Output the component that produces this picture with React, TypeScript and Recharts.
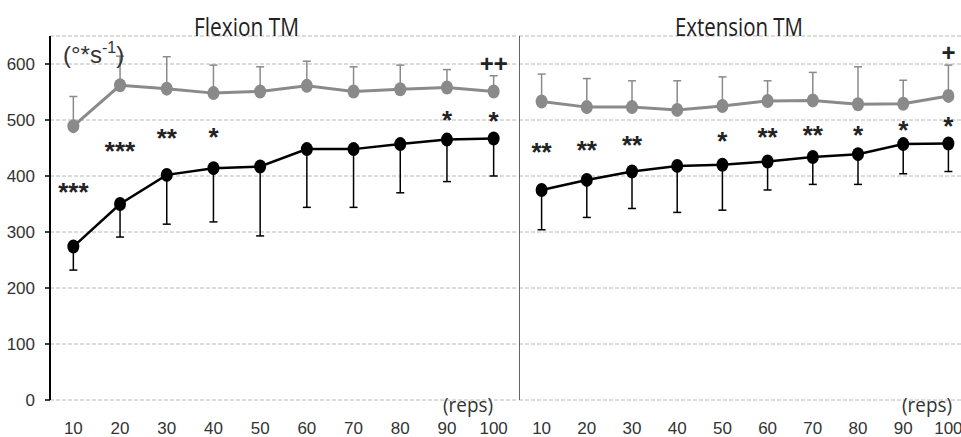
import React from 'react';
import {
  LineChart,
  Line,
  XAxis,
  YAxis,
  CartesianGrid,
  ErrorBar,
  LabelList,
  ReferenceLine,
} from 'recharts';

const reps = [10, 20, 30, 40, 50, 60, 70, 80, 90, 100];
const yTicks = [0, 100, 200, 300, 400, 500, 600];

// Flexion TM
const flexGray = [489, 562, 556, 548, 551, 561, 551, 555, 558, 551];
const flexGrayTop = [542, 614, 613, 598, 595, 605, 595, 598, 590, 579];
const flexBlack = [274, 350, 402, 414, 417, 448, 448, 457, 465, 467];
const flexBlackLow = [232, 291, 314, 318, 293, 344, 344, 370, 390, 400];
const flexStars = ['***', '***', '**', '*', '', '', '', '', '*', '*'];
const flexPlus = ['', '', '', '', '', '', '', '', '', '++'];

// Extension TM
const extGray = [533, 523, 523, 518, 525, 534, 535, 528, 529, 543];
const extGrayTop = [582, 574, 570, 570, 577, 570, 585, 595, 571, 598];
const extBlack = [375, 393, 408, 418, 420, 426, 434, 439, 457, 458];
const extBlackLow = [304, 326, 342, 335, 339, 375, 385, 385, 404, 408];
const extStars = ['**', '**', '**', '', '*', '**', '**', '*', '*', '*'];
const extPlus = ['', '', '', '', '', '', '', '', '', '+'];

const GRAY = '#8a8a8a';
const numFont = "'Liberation Sans Narrow', 'Liberation Sans', Arial, sans-serif";
const textFont = "'Open Sans', 'Noto Sans', sans-serif";

function buildRows(
  gray: number[],
  grayTop: number[],
  black: number[],
  blackLow: number[],
  stars: string[],
  plus: string[],
) {
  return reps.map((rep, i) => ({
    rep,
    gray: gray[i],
    grayErr: [0, grayTop[i] - gray[i]],
    black: black[i],
    blackErr: [black[i] - blackLow[i], 0],
    mid: (gray[i] + black[i]) / 2,
    star: stars[i],
    grayTop: grayTop[i],
    plus: plus[i],
  }));
}

const flexRows = buildRows(flexGray, flexGrayTop, flexBlack, flexBlackLow, flexStars, flexPlus);
const extRows = buildRows(extGray, extGrayTop, extBlack, extBlackLow, extStars, extPlus);

const oval = (color: string) => (props: any) => (
  <ellipse key={`d${props.index}`} cx={props.cx} cy={props.cy} rx={6} ry={7} fill={color} />
);

const starLabel = (props: any) => {
  const { x, y, value, index } = props;
  if (!value) return null;
  return (
    <text
      key={`s${index}`}
      x={x}
      y={y + 15}
      textAnchor="middle"
      fontFamily="'Liberation Sans', Arial, sans-serif"
      fontWeight="bold"
      fontSize={26}
      fill="#222"
    >
      {value}
    </text>
  );
};

const plusLabel = (props: any) => {
  const { x, y, value, index } = props;
  if (!value) return null;
  return (
    <text
      key={`p${index}`}
      x={x}
      y={y - 4}
      textAnchor="middle"
      fontFamily="'Liberation Sans', Arial, sans-serif"
      fontWeight="bold"
      fontSize={24}
      fill="#222"
    >
      {value}
    </text>
  );
};

interface PanelProps {
  rows: ReturnType<typeof buildRows>;
  left: number;
  width: number;
  withAxis: boolean;
}

function Panel({ rows, left, width, withAxis }: PanelProps) {
  return (
    <div style={{ position: 'absolute', left, top: 0 }}>
      <LineChart
        width={width}
        height={437}
        data={rows}
        margin={{ top: 36, right: withAxis ? 1 : 0, bottom: 7, left: 0 }}
      >
        <CartesianGrid vertical={false} stroke="#b8b8b8" strokeDasharray="4 2" />
        <XAxis
          dataKey="rep"
          type="number"
          domain={[5, 105]}
          ticks={reps}
          interval={0}
          axisLine={false}
          tickLine={false}
          tickMargin={16}
          height={30}
          tick={{ fontFamily: numFont, fontSize: 17, fill: '#333' }}
        />
        <YAxis
          type="number"
          domain={[0, 650]}
          ticks={yTicks}
          interval={0}
          hide={!withAxis}
          width={50}
          axisLine={{ stroke: '#000', strokeWidth: 2 }}
          tickLine={{ stroke: '#000', strokeWidth: 1.5 }}
          tickSize={5}
          tickMargin={10}
          tick={{ fontFamily: numFont, fontSize: 17, fill: '#333' }}
        />
        {!withAxis && <ReferenceLine x={5} stroke="#333" strokeWidth={1.5} />}
        <Line
          dataKey="gray"
          stroke={GRAY}
          strokeWidth={3}
          dot={oval(GRAY)}
          activeDot={false}
          isAnimationActive={false}
        >
          <ErrorBar dataKey="grayErr" direction="y" width={4} stroke={GRAY} strokeWidth={1.5} />
        </Line>
        <Line
          dataKey="black"
          stroke="#000"
          strokeWidth={2.5}
          dot={oval('#000')}
          activeDot={false}
          isAnimationActive={false}
        >
          <ErrorBar dataKey="blackErr" direction="y" width={4} stroke="#000" strokeWidth={1.5} />
        </Line>
        <Line dataKey="mid" stroke="none" dot={false} activeDot={false} isAnimationActive={false}>
          <LabelList dataKey="star" content={starLabel} />
        </Line>
        <Line dataKey="grayTop" stroke="none" dot={false} activeDot={false} isAnimationActive={false}>
          <LabelList dataKey="plus" content={plusLabel} />
        </Line>
      </LineChart>
    </div>
  );
}

export default function App() {
  return (
    <div
      style={{
        position: 'absolute',
        left: 0,
        top: 0,
        width: 961,
        height: 437,
        overflow: 'hidden',
        background: '#fff',
      }}
    >
      <Panel rows={flexRows} left={0} width={518} withAxis />
      <Panel rows={extRows} left={519} width={452} withAxis={false} />
      <svg
        width={961}
        height={437}
        style={{ position: 'absolute', left: 0, top: 0, pointerEvents: 'none' }}
      >
        <text x={194} y={36} fontFamily={textFont} fontSize={25} fill="#222" textLength={105} lengthAdjust="spacingAndGlyphs">
          Flexion TM
        </text>
        <text x={675} y={36} fontFamily={textFont} fontSize={25} fill="#222" textLength={128} lengthAdjust="spacingAndGlyphs">
          Extension TM
        </text>
        <text x={63} y={63} fontFamily="'Liberation Sans', Arial, sans-serif" fontSize={24} fill="#333">
          (°*s
          <tspan fontSize={16} dy={-10}>-1</tspan>
          <tspan dy={10}>)</tspan>
        </text>
        <text x={443} y={412} fontFamily={textFont} fontSize={20} fill="#333" textLength={50} lengthAdjust="spacingAndGlyphs">
          (reps)
        </text>
        <text x={902} y={412} fontFamily={textFont} fontSize={20} fill="#333" textLength={50} lengthAdjust="spacingAndGlyphs">
          (reps)
        </text>
      </svg>
    </div>
  );
}
